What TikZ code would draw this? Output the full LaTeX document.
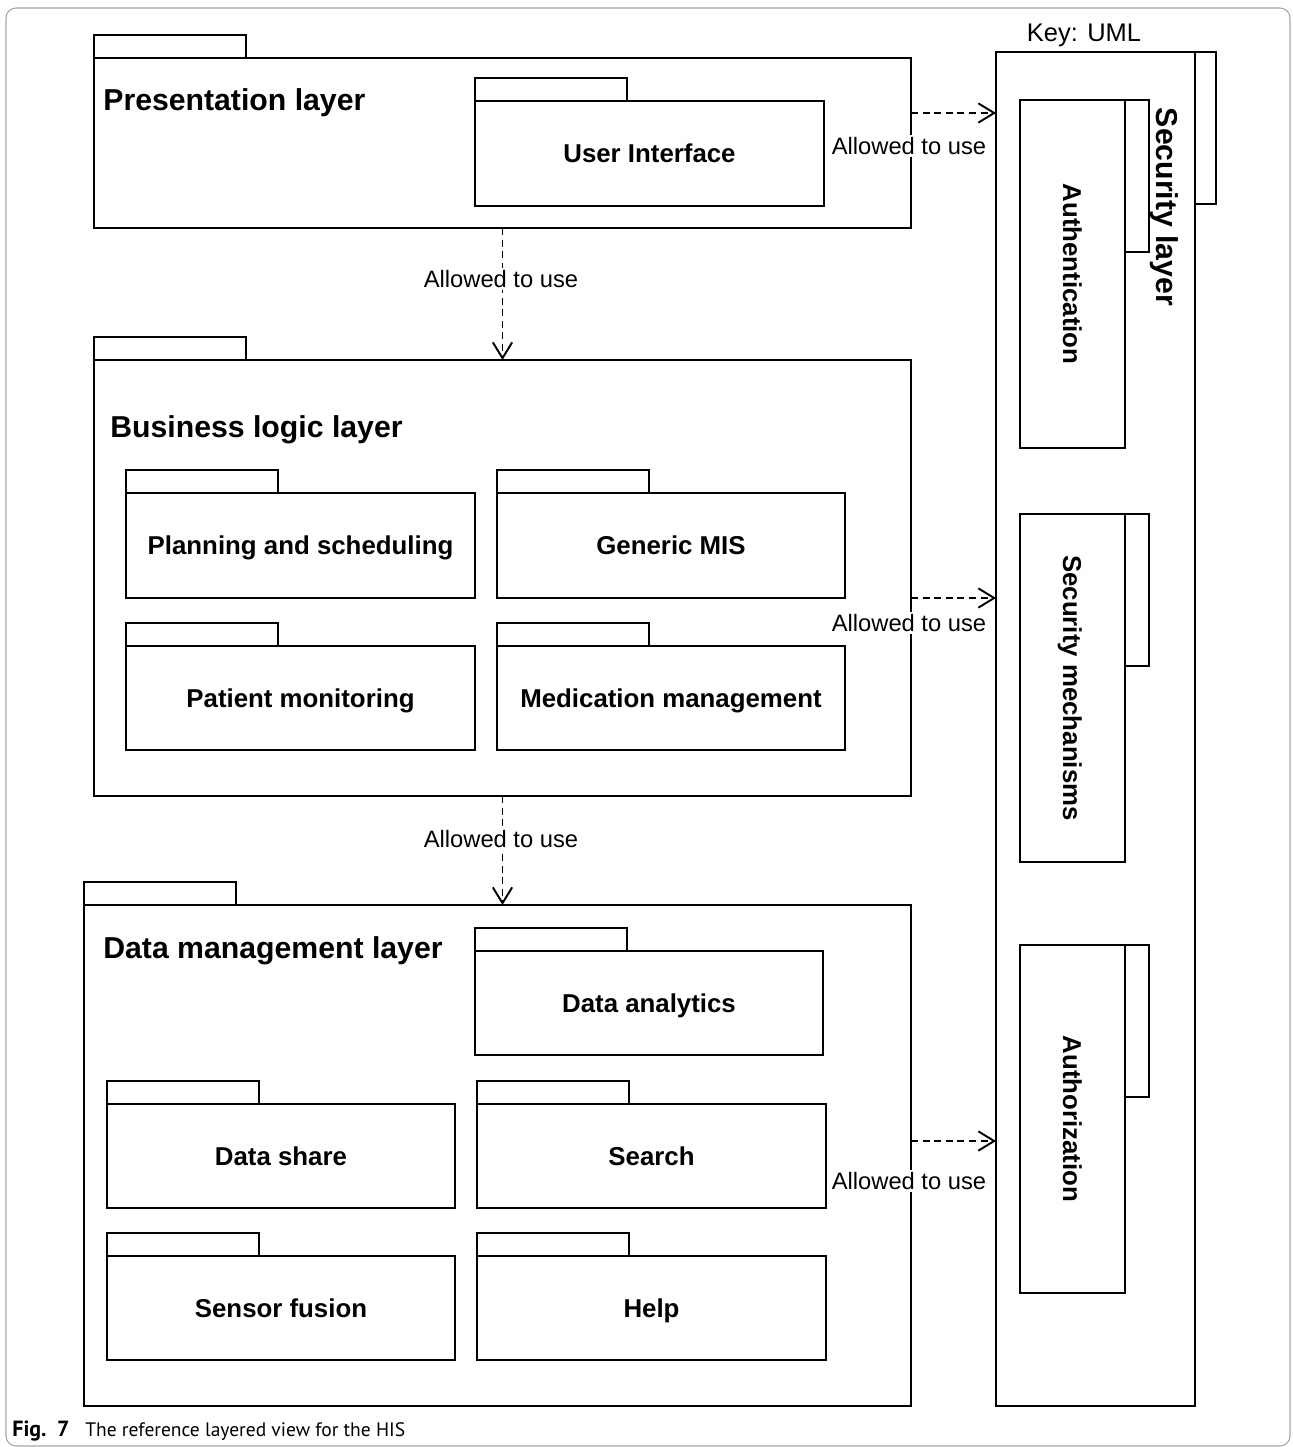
\documentclass[tikz,border=0pt]{standalone}
\usepackage{fontspec}
\setmainfont{Liberation Sans}
\newfontfamily\capfont{PT Sans}
\usetikzlibrary{arrows.meta,calc,fit,positioning}

\tikzset{
  pkgline/.style={draw, line width=1.1pt},
  pkgbox/.style={pkgline, inner sep=0pt, outer sep=0pt},
  pkgtext/.style={inner sep=0pt, text height=10.6pt, text depth=0pt, font=\bfseries\fontsize{14.7}{17}\selectfont},
  layertitle/.style={anchor=west, inner sep=0pt, font=\bfseries\fontsize{17.2}{20}\selectfont},
  sidetitle/.style={rotate=-90, inner sep=0pt, text height=10.6pt, text depth=0pt, font=\bfseries\fontsize{14.7}{17}\selectfont},
  allowed/.style={line width=1.1pt, dash pattern=on 4pt off 2.6pt, -{Straight Barb[length=9pt,width=11pt]}},
  uselbl/.style={fill=white, inner sep=1.5pt, font=\fontsize{13.5}{16}\selectfont}
}

\begin{document}
\begin{tikzpicture}[x=0.02cm, y=-0.02cm]
\useasboundingbox (0,0) rectangle (1292,1447);
\draw[gray!70, line width=0.6pt, rounded corners=5.7pt] (6,8) rectangle (1290,1446);

% presentation layer
\node[pkgbox, fit={(94,58) (911,228)}] (pres) {};
\node[layertitle] (prestitle) at (103,103) {Presentation layer};
\node[pkgbox, fit={(475,101) (824,206)}] (ui) {};

% business logic layer
\node[pkgbox, fit={(94,360) (911,796)}] (bus) {};
\node[layertitle] (bustitle) at (110,430) {Business logic layer};
\node[pkgbox, fit={(126,493) (475,598)}] (plan) {};
\node[pkgbox, fit={(497,493) (845,598)}] (mis) {};
\node[pkgbox, fit={(126,646) (475,750)}] (pat) {};
\node[pkgbox, fit={(497,646) (845,750)}] (med) {};

% data management layer
\node[pkgbox, fit={(84,905) (911,1406)}] (dat) {};
\node[layertitle] (dattitle) at (103,951) {Data management layer};
\node[pkgbox, fit={(475,951) (823,1055)}] (ana) {};
\node[pkgbox, fit={(107,1104) (455,1208)}] (share) {};
\node[pkgbox, fit={(477,1104) (826,1208)}] (search) {};
\node[pkgbox, fit={(107,1256) (455,1360)}] (fusion) {};
\node[pkgbox, fit={(477,1256) (826,1360)}] (help) {};

% tabs on top and names in the middle
\foreach \n/\t in {ui/User Interface, plan/Planning and scheduling, mis/Generic MIS,
    pat/Patient monitoring, med/Medication management, ana/Data analytics,
    share/Data share, search/Search, fusion/Sensor fusion, help/Help}
  \node[pkgtext] (\n text) at (\n.center) {\t};
\foreach \n in {pres,ui,bus,plan,mis,pat,med,dat,ana,share,search,fusion,help}
  \draw[pkgline] (\n.north west) rectangle ++(152,-23);

% security layer
\node[font=\fontsize{14.5}{17}\selectfont] (key) at (1084,35) {Key: UML};
\node[pkgbox, fit={(996,52) (1195,1406)}] (sec) {};
\draw[pkgline] (sec.north east) rectangle ++(21,152);
\node[sidetitle, text height=12.4pt, font=\bfseries\fontsize{17.2}{20}\selectfont] (sectitle) at (1167,207) {Security layer};
\node[pkgbox, fit={(1020,100) (1125,448)}] (auth) {};
\node[pkgbox, fit={(1020,514) (1125,862)}] (mech) {};
\node[pkgbox, fit={(1020,945) (1125,1293)}] (authz) {};
\node[sidetitle] (authtext) at (auth.center) {Authentication};
\node[sidetitle] (mechtext) at (mech.center) {Security mechanisms};
\node[sidetitle] (authztext) at (authz.center) {Authorization};
% tabs on the side
\foreach \n in {auth,mech,authz}
  \draw[pkgline] (\n.north east) rectangle ++(24,152);

% allowed to use
\draw[allowed] (pres.south) -- (bus.north);
\draw[allowed] (bus.south) -- (bus.south |- dat.north);
\draw[allowed] ($(pres.north east)+(0,55)$) coordinate (a1) -- (a1 -| sec.west);
\draw[allowed] ($(bus.north east)+(0,238)$) coordinate (a2) -- (a2 -| sec.west);
\draw[allowed] ($(dat.north east)+(0,236)$) coordinate (a3) -- (a3 -| sec.west);
\node[uselbl] (use1) at (501,279) {Allowed to use};
\node[uselbl] (use2) at (501,839) {Allowed to use};
\node[uselbl] (use3) at (909,146) {Allowed to use};
\node[uselbl] (use4) at (909,623) {Allowed to use};
\node[uselbl] (use5) at (909,1181) {Allowed to use};

% caption
\node[anchor=base west, inner sep=0pt, font=\capfont\bfseries\fontsize{12.5}{14}\selectfont] (fig) at (12,1436) {Fig.\hspace{6pt}7};
\node[anchor=base west, inner sep=0pt, font=\capfont\fontsize{11.1}{13}\selectfont] (caption) at (85,1436) {The reference layered view for the HIS};
\end{tikzpicture}
\end{document}
